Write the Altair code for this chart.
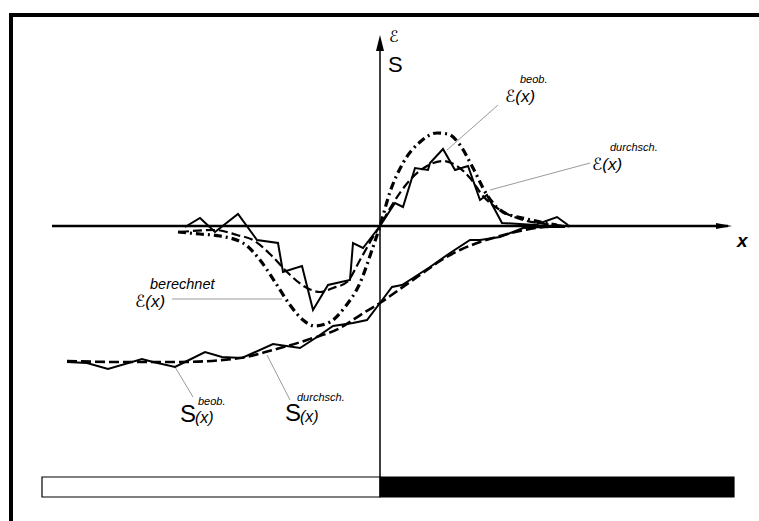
import altair as alt
import pandas as pd

# ---- curves (x, y in axis units, origin where the axes cross) ----
eps_obs_x = [-19.5, -18.0, -16.5, -14.2, -12.3, -10.2, -9.7, -7.8, -6.7, -5.2, -3.0, -2.7, -1.7, 0.0,
             1.5, 2.3, 3.5, 4.8, 5.0, 6.3, 7.5, 8.8, 10.0, 10.7, 12.2, 15.5, 17.7, 18.8]
eps_obs_y = [-0.1, 0.8, -0.6, 1.2, -1.4, -1.7, -4.6, -4.0, -8.4, -5.9, -5.4, -1.7, -2.2, 0.0,
             2.3, 1.9, 5.8, 5.6, 6.3, 7.7, 5.6, 6.0, 2.6, 3.1, 0.3, 0.1, 0.9, 0.1]

eps_avg_x = [-20.0, -16.5, -14.3, -12.7, -10.7, -9.3, -7.3, -6.0, -4.7, -3.3, -2.0, -0.7, 0.0,
             1.2, 3.0, 4.7, 6.3, 7.7, 9.0, 10.3, 12.0, 14.0, 16.5, 18.8]
eps_avg_y = [-0.6, -0.4, -0.9, -1.4, -3.1, -4.6, -6.2, -6.6, -6.2, -5.6, -3.4, -1.1, 0.0,
             2.1, 4.6, 6.0, 6.5, 6.0, 4.8, 3.0, 1.6, 0.7, 0.2, 0.0]

eps_calc_x = [-20.2, -18.0, -16.0, -13.7, -12.0, -10.5, -9.0, -7.7, -6.5, -5.0, -3.5, -2.0, -0.8, 0.0,
              1.0, 2.3, 4.0, 5.7, 6.8, 8.0, 9.3, 10.7, 12.3, 14.7, 17.7]
eps_calc_y = [-0.6, -0.8, -1.0, -1.7, -3.4, -5.6, -7.9, -9.4, -10.0, -9.6, -8.1, -5.7, -2.4, 0.0,
              3.4, 6.3, 8.4, 9.3, 9.2, 8.1, 5.8, 3.1, 1.4, 0.7, 0.1]

s_obs_x = [-31.3, -29.3, -27.2, -23.8, -22.7, -20.5, -19.5, -17.5, -15.8, -13.8, -10.7, -8.0, -6.3,
           -4.7, -2.7, -1.3, 0.0, 1.2, 2.2, 3.3, 5.0, 7.0, 9.0, 10.0, 12.0, 13.3, 14.3, 16.3, 18.5]
s_obs_y = [-13.6, -13.7, -14.3, -13.3, -13.6, -14.1, -13.6, -12.6, -13.1, -13.2, -11.8, -12.2, -11.1,
           -10.0, -9.7, -9.4, -7.7, -6.1, -5.9, -5.2, -4.1, -2.7, -1.4, -1.4, -1.1, -0.6, -0.2, -0.1, -0.1]

s_avg_x = [-31.3, -26.0, -20.0, -14.0, -10.7, -7.3, -4.0, -1.5, 0.0, 2.0, 4.0, 6.0, 8.0, 10.0,
           12.0, 14.0, 16.5, 19.0]
s_avg_y = [-13.5, -13.6, -13.6, -13.2, -12.4, -11.4, -10.2, -8.6, -7.7, -6.3, -4.9, -3.5, -2.4, -1.6,
           -1.0, -0.5, -0.1, 0.0]

# ---- leader lines: label -> curve ----
lead_x1 = [11.8, 21.0, -20.8, -20.5, -11.3]
lead_y1 = [12.1, 6.3, -7.3, -14.1, -12.9]
lead_x2 = [6.7, 11.0, -9.8, -18.7, -9.0]
lead_y2 = [7.6, 3.6, -7.3, -17.1, -17.4]

# ---- label texts ----
sup_text = ["beob.", "durchsch.", "beob.", "durchsch."]
sup_x = [14.0, 23.0, -18.2, -8.3]
sup_y = [14.6, 7.8, -17.6, -17.2]

eps_lbl_text = ["ℰ(x)", "ℰ(x)", "ℰ(x)"]
eps_lbl_x = [12.5, 21.2, -24.5]
eps_lbl_y = [12.9, 6.1, -7.6]

s_lbl_x = [-20.0, -9.5]
s_lbl_y = [-18.9, -18.8]

# ---- bottom bar: left half light, right half dark ----
bar_x1 = [-33.8, 0.0]
bar_x2 = [0.0, 35.4]
bar_y1 = [-25.1, -25.1]
bar_y2 = [-27.1, -27.1]
bar_fill = ["white", "black"]

X_DOM = [-38.0, 37.9]
Y_DOM = [-29.5, 22.6]
FONT = "Liberation Sans, Arial, DejaVu Sans"


def X(f="x"):
    return alt.X(f"{f}:Q", scale=alt.Scale(domain=X_DOM, nice=False, zero=False), axis=None)


def Y(f="y"):
    return alt.Y(f"{f}:Q", scale=alt.Scale(domain=Y_DOM, nice=False, zero=False), axis=None)


def curve(xs, ys):
    return pd.DataFrame({"x": xs, "y": ys, "i": range(len(xs))})


def line(df, interp, width, dash=None):
    kw = dict(color="black", strokeWidth=width, interpolate=interp, clip=False)
    if dash:
        kw["strokeDash"] = dash
    return alt.Chart(df).mark_line(**kw).encode(x=X(), y=Y(), order="i:Q")


# frame (top and left edges)
frame = pd.DataFrame({"x": [-37.1, -36.9], "x2": [37.9, -36.9], "y": [21.1, 21.3], "y2": [21.1, -29.5]})
frame_l = alt.Chart(frame).mark_rule(color="black", strokeWidth=4).encode(
    x=X(), x2="x2:Q", y=Y(), y2="y2:Q")

# coordinate axes with arrow heads
axes = pd.DataFrame({"x": [-32.8, 0.0], "x2": [34.8, 0.0], "y": [0.0, -25.1], "y2": [0.0, 18.1],
                     "w": [2.4, 1.5]})
axes_l = alt.Chart(axes).mark_rule(color="black").encode(
    x=X(), x2="x2:Q", y=Y(), y2="y2:Q", strokeWidth=alt.StrokeWidth("w:Q", scale=None))

arrow_r = alt.Chart(pd.DataFrame({"x": [34.4], "y": [0.0]})).mark_point(
    shape="M-1,-0.38L1,0L-1,0.38Z", size=256, filled=True, color="black", opacity=1
).encode(x=X(), y=Y())
arrow_u = alt.Chart(pd.DataFrame({"x": [0.0], "y": [18.3]})).mark_point(
    shape="M-0.5,1L0,-1L0.5,1Z", size=256, filled=True, color="black", opacity=1
).encode(x=X(), y=Y())

# bottom bar
bars = pd.DataFrame({"x": bar_x1, "x2": bar_x2, "y": bar_y1, "y2": bar_y2, "fill": bar_fill})
bar_l = alt.Chart(bars).mark_rect(stroke="black", strokeWidth=1.2).encode(
    x=X(), x2="x2:Q", y=Y(), y2="y2:Q", fill=alt.Fill("fill:N", scale=None))

# leader lines
leads = pd.DataFrame({"x": lead_x1, "y": lead_y1, "x2": lead_x2, "y2": lead_y2})
lead_l = alt.Chart(leads).mark_rule(color="#9a9a9a", strokeWidth=1).encode(
    x=X(), x2="x2:Q", y=Y(), y2="y2:Q")

# curves
c_eps_obs = line(curve(eps_obs_x, eps_obs_y), "linear", 2.0)
c_eps_avg = line(curve(eps_avg_x, eps_avg_y), "monotone", 2.2, [9, 4])
c_eps_calc = line(curve(eps_calc_x, eps_calc_y), "monotone", 3.2, [8, 4, 2, 4])
c_s_obs = line(curve(s_obs_x, s_obs_y), "linear", 2.0)
c_s_avg = line(curve(s_avg_x, s_avg_y), "monotone", 2.6, [10, 4])

# texts
sup = pd.DataFrame({"x": sup_x, "y": sup_y, "t": sup_text})
sup_l = alt.Chart(sup).mark_text(align="left", baseline="middle", font=FONT, fontStyle="italic",
                                 fontSize=11).encode(x=X(), y=Y(), text="t:N")
calc_l = alt.Chart(pd.DataFrame({"x": [-23.0], "y": [-5.9], "t": ["berechnet"]})).mark_text(
    align="left", baseline="middle", font=FONT, fontStyle="italic", fontSize=14.5
).encode(x=X(), y=Y(), text="t:N")

eps_lbl = pd.DataFrame({"x": eps_lbl_x, "y": eps_lbl_y, "t": eps_lbl_text})
eps_l = alt.Chart(eps_lbl).mark_text(align="left", baseline="middle", font=FONT, fontStyle="italic",
                                     fontSize=17).encode(x=X(), y=Y(), text="t:N")

s_lbl = pd.DataFrame({"x": s_lbl_x, "y": s_lbl_y, "t": ["S", "S"]})
s_l = alt.Chart(s_lbl).mark_text(align="left", baseline="middle", font=FONT, fontSize=24).encode(
    x=X(), y=Y(), text="t:N")
sx_l = alt.Chart(s_lbl.assign(t="(x)")).mark_text(align="left", baseline="middle", font=FONT,
                                                  fontStyle="italic", fontSize=16, dx=15, dy=3).encode(
    x=X(), y=Y(), text="t:N")

ax_x = alt.Chart(pd.DataFrame({"x": [35.7], "y": [-1.5], "t": ["x"]})).mark_text(
    align="left", baseline="middle", font=FONT, fontStyle="italic", fontWeight="bold", fontSize=19
).encode(x=X(), y=Y(), text="t:N")
ax_e = alt.Chart(pd.DataFrame({"x": [0.9], "y": [18.9], "t": ["ℰ"]})).mark_text(
    align="left", baseline="middle", font=FONT, fontStyle="italic", fontSize=16
).encode(x=X(), y=Y(), text="t:N")
ax_s = alt.Chart(pd.DataFrame({"x": [0.8], "y": [16.1], "t": ["S"]})).mark_text(
    align="left", baseline="middle", font=FONT, fontSize=22
).encode(x=X(), y=Y(), text="t:N")

chart = alt.layer(
    frame_l, bar_l, lead_l, axes_l, arrow_r, arrow_u,
    c_s_avg, c_s_obs, c_eps_calc, c_eps_avg, c_eps_obs,
    sup_l, calc_l, eps_l, s_l, sx_l, ax_x, ax_e, ax_s,
).properties(
    width=759, height=521, padding=0, background="white",
    autosize=alt.AutoSizeParams(type="none"),
).configure_view(stroke=None)

chart.save("out.html", embed_options={"renderer": "svg", "actions": False})
